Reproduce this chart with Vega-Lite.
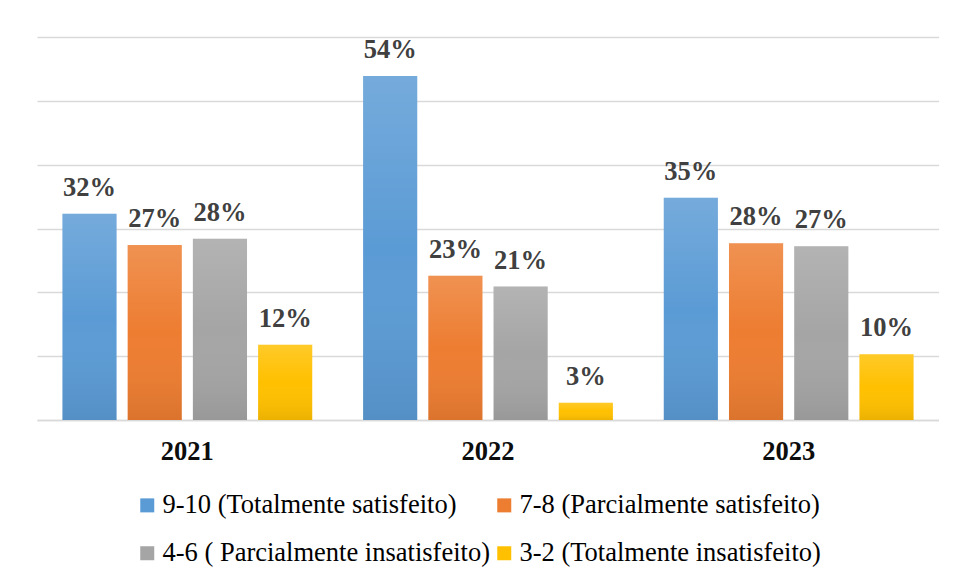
{
  "$schema": "https://vega.github.io/schema/vega-lite/v6.json",
  "width": 902,
  "height": 383,
  "padding": {"left": 37, "top": 36, "right": 0, "bottom": 0},
  "background": "white",
  "data": {
    "values": [
      {"year": "2021", "cat": "9-10 (Totalmente satisfeito)", "value": 32.3, "label": "32%"},
      {"year": "2021", "cat": "7-8 (Parcialmente satisfeito)", "value": 27.4, "label": "27%"},
      {"year": "2021", "cat": "4-6 ( Parcialmente insatisfeito)", "value": 28.4, "label": "28%"},
      {"year": "2021", "cat": "3-2 (Totalmente insatisfeito)", "value": 11.8, "label": "12%"},
      {"year": "2022", "cat": "9-10 (Totalmente satisfeito)", "value": 53.9, "label": "54%"},
      {"year": "2022", "cat": "7-8 (Parcialmente satisfeito)", "value": 22.6, "label": "23%"},
      {"year": "2022", "cat": "4-6 ( Parcialmente insatisfeito)", "value": 20.9, "label": "21%"},
      {"year": "2022", "cat": "3-2 (Totalmente insatisfeito)", "value": 2.7, "label": "3%"},
      {"year": "2023", "cat": "9-10 (Totalmente satisfeito)", "value": 34.8, "label": "35%"},
      {"year": "2023", "cat": "7-8 (Parcialmente satisfeito)", "value": 27.7, "label": "28%"},
      {"year": "2023", "cat": "4-6 ( Parcialmente insatisfeito)", "value": 27.2, "label": "27%"},
      {"year": "2023", "cat": "3-2 (Totalmente insatisfeito)", "value": 10.3, "label": "10%"}
    ]
  },
  "encoding": {
    "x": {
      "field": "year", "type": "nominal",
      "scale": {"paddingInner": 0, "paddingOuter": 0},
      "axis": {
        "title": null, "labelAngle": 0, "ticks": false, "domain": true,
        "domainColor": "#d9d9d9", "domainWidth": 1.5,
        "labelFont": "'Times New Roman', 'Liberation Serif', 'DejaVu Serif', serif", "labelFontSize": 26.5, "labelFontWeight": "bold",
        "labelColor": "#0d0d0d", "labelPadding": 18, "labelBaseline": "top"
      }
    },
    "xOffset": {
      "field": "cat", "type": "nominal",
      "sort": ["9-10 (Totalmente satisfeito)", "7-8 (Parcialmente satisfeito)", "4-6 ( Parcialmente insatisfeito)", "3-2 (Totalmente insatisfeito)"],
      "scale": {"paddingInner": 0.17, "paddingOuter": 0.39}
    },
    "y": {
      "field": "value", "type": "quantitative",
      "scale": {"domain": [0, 60], "nice": false},
      "axis": {
        "title": null, "labels": false, "ticks": false, "domain": false,
        "values": [0, 10, 20, 30, 40, 50, 60],
        "grid": true, "gridColor": "#d9d9d9", "gridWidth": 1.5
      }
    }
  },
  "layer": [
    {
      "mark": {"type": "bar"},
      "encoding": {
        "color": {
          "field": "cat", "type": "nominal",
          "scale": {
            "domain": ["9-10 (Totalmente satisfeito)", "7-8 (Parcialmente satisfeito)", "4-6 ( Parcialmente insatisfeito)", "3-2 (Totalmente insatisfeito)"],
            "range": ["#5B9BD5", "#ED7D31", "#A5A5A5", "#FFC000"]
          },
          "legend": {
            "title": null, "orient": "none", "legendX": 97, "legendY": 455,
            "direction": "horizontal", "columns": 2,
            "symbolType": "square", "symbolSize": 196, "symbolStrokeWidth": 0,
            "labelFont": "'Times New Roman', 'Liberation Serif', 'DejaVu Serif', serif", "labelFontSize": 26.5, "labelColor": "#000000",
            "labelLimit": 600, "labelOffset": 2, "columnPadding": 1, "rowPadding": 21, "padding": 0
          }
        }
      }
    },
    {
      "mark": {
        "type": "bar",
        "fill": {
          "gradient": "linear", "x1": 0, "y1": 0, "x2": 0, "y2": 1,
          "stops": [
            {"offset": 0, "color": "rgba(255,255,255,0.16)"},
            {"offset": 0.5, "color": "rgba(255,255,255,0)"},
            {"offset": 1, "color": "rgba(0,0,0,0.08)"}
          ]
        }
      },
      "encoding": {}
    },
    {
      "mark": {
        "type": "text", "dy": -18, "baseline": "alphabetic",
        "font": "'Times New Roman', 'Liberation Serif', 'DejaVu Serif', serif", "fontWeight": "bold", "fontSize": 26.5, "color": "#404040"
      },
      "encoding": {"text": {"field": "label"}}
    }
  ],
  "config": {
    "view": {"stroke": null}
  }
}
